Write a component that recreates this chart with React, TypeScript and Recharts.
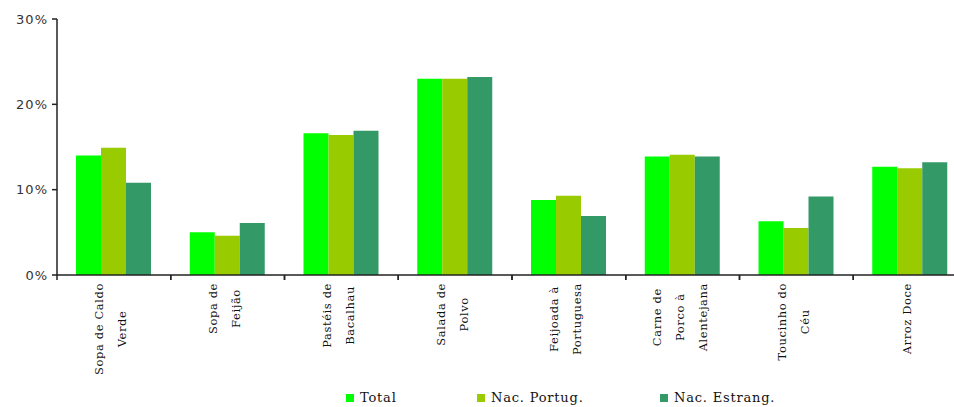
import React from 'react';
import { BarChart, Bar, XAxis, YAxis } from 'recharts';

// Pratos típicos: percentagem por tipo de respondente
const categories = [
  'Sopa de Caldo\nVerde',
  'Sopa de\nFeijão',
  'Pastéis de\nBacalhau',
  'Salada de\nPolvo',
  'Feijoada à\nPortuguesa',
  'Carne de\nPorco à\nAlentejana',
  'Toucinho do\nCéu',
  'Arroz Doce',
];
const total = [14.0, 5.0, 16.6, 23.0, 8.8, 13.9, 6.3, 12.7];
const nacPortug = [14.9, 4.6, 16.4, 23.0, 9.3, 14.1, 5.5, 12.5];
const nacEstrang = [10.8, 6.1, 16.9, 23.2, 6.9, 13.9, 9.2, 13.2];
const yTicks = [0, 10, 20, 30];

const seriesNames = ['Total', 'Nac. Portug.', 'Nac. Estrang.'];
const seriesColors = ['#00FF00', '#99CC00', '#339966'];

const data = categories.map((name, i) => ({
  name,
  total: total[i],
  nacPortug: nacPortug[i],
  nacEstrang: nacEstrang[i],
}));

const CHART_W = 967;
const CHART_H = 407;
const PLOT_LEFT = 57;
const BAND = (CHART_W - PLOT_LEFT) / categories.length;
const SERIF = 'DejaVu Serif';
const LABEL_FONT = 11.5;
const LABEL_SPACING = 0.6;

let ctx: CanvasRenderingContext2D | null = null;
function textWidth(s: string) {
  if (!ctx && typeof document !== 'undefined') {
    ctx = document.createElement('canvas').getContext('2d');
  }
  if (!ctx) return s.length * 6.7;
  ctx.font = `${LABEL_FONT}px ${SERIF}`;
  return ctx.measureText(s).width + s.length * LABEL_SPACING;
}

function CategoryTick(props: any) {
  const { x, y, payload } = props;
  const lines = String(payload.value).split('\n');
  const longest = Math.max(...lines.map(textWidth));
  const cy = y + 8 + longest / 2;
  const step = 23;
  const x0 = x - 3 - ((lines.length - 1) * step) / 2;
  return (
    <g>
      <line x1={x - BAND / 2} x2={x - BAND / 2} y1={y} y2={y + 5} stroke="#222" strokeWidth={1.5} />
      <line x1={x + BAND / 2} x2={x + BAND / 2} y1={y} y2={y + 5} stroke="#222" strokeWidth={1.5} />
      {lines.map((l, i) => (
        <text
          key={i}
          transform={`translate(${x0 + i * step},${cy}) rotate(-90)`}
          textAnchor="middle"
          dominantBaseline="central"
          style={{ fontFamily: SERIF, fontSize: LABEL_FONT, letterSpacing: LABEL_SPACING }}
          fill="#111"
        >
          {l}
        </text>
      ))}
    </g>
  );
}

export default function App() {
  return (
    <div
      style={{
        position: 'fixed',
        left: 0,
        top: 0,
        width: 954,
        height: 407,
        overflow: 'hidden',
        background: '#fff',
      }}
    >
      <BarChart
        width={CHART_W}
        height={CHART_H}
        data={data}
        margin={{ top: 19, right: 0, bottom: 0, left: 7 }}
        barSize={25}
        barGap={0}
      >
        <XAxis
          dataKey="name"
          interval={0}
          height={132}
          tickLine={false}
          tickSize={0}
          tickMargin={0}
          axisLine={{ stroke: '#222', strokeWidth: 1.5 }}
          tick={<CategoryTick />}
        />
        <YAxis
          width={50}
          domain={[0, 30]}
          ticks={yTicks}
          tickFormatter={(v) => `${v}%`}
          axisLine={{ stroke: '#222', strokeWidth: 1.5 }}
          tickLine={{ stroke: '#222', strokeWidth: 1.5 }}
          tickSize={5}
          tickMargin={4}
          tick={{
            fontFamily: 'DejaVu Sans',
            fontSize: 13,
            letterSpacing: 1,
            fill: '#333',
          }}
        />
        <Bar dataKey="total" name={seriesNames[0]} fill={seriesColors[0]} isAnimationActive={false} />
        <Bar dataKey="nacPortug" name={seriesNames[1]} fill={seriesColors[1]} isAnimationActive={false} />
        <Bar dataKey="nacEstrang" name={seriesNames[2]} fill={seriesColors[2]} isAnimationActive={false} />
      </BarChart>

      {/* legenda */}
      {seriesNames.map((n, i) => {
        const left = [346, 477, 660][i];
        return (
          <div
            key={n}
            style={{
              position: 'absolute',
              left,
              top: 390,
              display: 'flex',
              alignItems: 'center',
              fontFamily: SERIF,
              fontSize: 13,
              letterSpacing: 0.8,
              color: '#111',
              lineHeight: '16px',
              whiteSpace: 'nowrap',
            }}
          >
            <span
              style={{
                display: 'inline-block',
                width: 8,
                height: 8,
                background: seriesColors[i],
                marginRight: 6,
              }}
            />
            {n}
          </div>
        );
      })}
    </div>
  );
}
